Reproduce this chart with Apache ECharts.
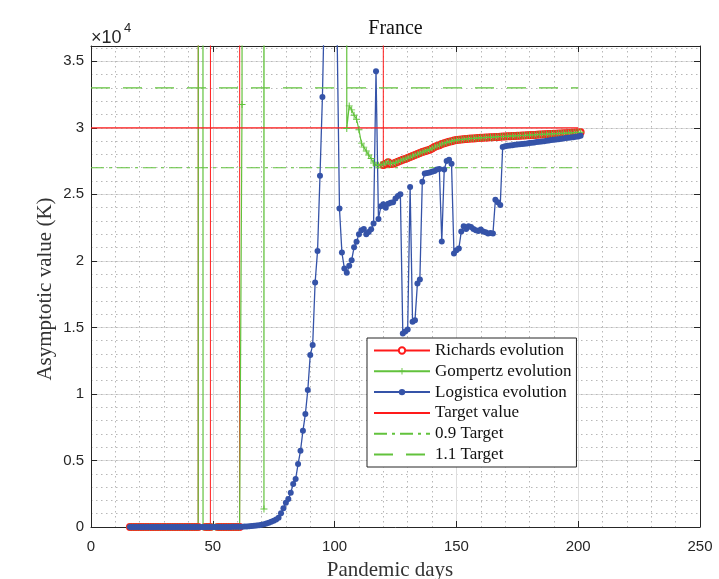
<!DOCTYPE html>
<html>
<head>
<meta charset="utf-8">
<script src="https://cdn.jsdelivr.net/npm/echarts@6/dist/echarts.min.js"></script>
<style>
html,body{margin:0;padding:0;background:#fff;}
#chart{width:719px;height:579px;}
</style>
</head>
<body>
<div id="chart"></div>
<script>
// fitted asymptote K per pandemic day, France.
// OFF = fit blew up (far above the plot), null = no fit that day
var OFF = 1000000;
var firstDay = 16;

var richards = [
    0,0,0,0,0,0,0,0,0,0,
    0,0,0,0,0,0,0,0,0,0,
    0,0,0,0,0,0,0,0,0,OFF,
    null,0,0,0,OFF,null,0,0,0,0,
    0,0,0,0,0,0,OFF,OFF,OFF,OFF,
    OFF,OFF,OFF,OFF,OFF,OFF,OFF,OFF,OFF,OFF,
    OFF,OFF,OFF,OFF,OFF,OFF,OFF,OFF,OFF,OFF,
    OFF,OFF,OFF,OFF,OFF,OFF,OFF,OFF,OFF,OFF,
    OFF,OFF,OFF,OFF,OFF,OFF,OFF,OFF,OFF,OFF,
    OFF,OFF,OFF,OFF,OFF,OFF,OFF,OFF,OFF,OFF,
    OFF,OFF,OFF,OFF,27200,27300,27420,27280,27300,27380,
    27450,27520,27600,27660,27740,27800,27880,27950,28030,28100,
    28180,28240,28300,28360,28450,28550,28640,28700,28790,28850,
    28900,28950,29000,29050,29090,29110,29130,29150,29160,29180,
    29190,29200,29220,29230,29250,29260,29270,29280,29290,29300,
    29310,29320,29330,29340,29350,29360,29370,29380,29390,29400,
    29410,29420,29430,29440,29450,29460,29470,29480,29490,29500,
    29510,29520,29530,29540,29550,29560,29570,29580,29590,29600,
    29610,29620,29630,29640,29650,29660
];

var gompertz = [
    0,0,0,0,0,0,0,0,0,0,
    0,0,0,0,0,0,0,0,0,0,
    0,0,0,0,0,0,0,0,0,OFF,
    0,0,0,0,0,0,0,0,0,0,
    0,0,0,0,0,0,31750,OFF,OFF,OFF,
    OFF,OFF,OFF,OFF,OFF,1350,OFF,OFF,OFF,OFF,
    OFF,OFF,OFF,OFF,OFF,OFF,OFF,OFF,OFF,OFF,
    OFF,OFF,OFF,OFF,OFF,OFF,OFF,OFF,OFF,OFF,
    OFF,OFF,OFF,OFF,OFF,OFF,OFF,OFF,OFF,29950,
    31650,31350,30950,30650,29850,28850,28550,28250,27950,27700,
    27350,27200,27180,27230,27260,27350,27450,27300,27320,27400,
    27460,27530,27600,27670,27740,27810,27880,27950,28020,28100,
    28170,28240,28300,28370,28460,28550,28630,28700,28780,28850,
    28900,28960,29000,29050,29080,29110,29130,29150,29170,29180,
    29190,29210,29220,29240,29250,29260,29270,29290,29300,29300,
    29310,29330,29340,29350,29350,29360,29380,29390,29390,29400,
    29420,29430,29430,29440,29460,29470,29470,29480,29500,29510,
    29510,29520,29540,29550,29550,29560,29580,29590,29590,29600,
    29620,29630,29630,29640,29660,29670
];

var logistica = [
    0,0,0,0,0,0,0,0,0,0,
    0,0,0,0,0,0,0,0,0,0,
    0,0,0,0,0,0,0,0,0,0,
    0,0,0,0,0,0,0,0,0,0,
    5,8,10,12,15,20,25,30,40,55,
    70,90,110,140,170,210,260,320,390,470,
    560,700,1030,1400,1830,2100,2580,3230,3600,4730,
    5730,7230,8490,10290,12920,13670,18380,20750,26390,32320,
    41000,60000,75000,70000,55000,37500,23940,20630,19430,19100,
    19630,20050,21030,21430,22010,22310,22400,22010,22180,22380,
    22810,34250,23150,24100,24250,24000,24300,24360,24400,24680,
    24880,25010,14540,14700,14850,25560,15420,15545,18300,18600,
    25940,26560,26610,26640,26690,26760,26860,26900,21450,26860,
    27510,27600,27300,20550,20800,20930,22200,22600,22400,22600,
    22550,22400,22300,22250,22350,22200,22150,22050,22100,22050,
    24600,24400,24200,28560,28620,28650,28680,28700,28720,28740,
    28760,28790,28810,28830,28860,28880,28900,28930,28950,28980,
    29000,29030,29050,29080,29100,29130,29150,29180,29200,29230,
    29250,29280,29300,29330,29350,29400
];

var targetDays = [0, 200];
var targetValue = 30000;
var lowTarget = 27000;   // 0.9 target
var highTarget = 33000;  // 1.1 target

var red = '#ff1a1a';
var green = '#62c23c';
var blue = '#3553a8';
var axisCol = '#262626';
var serif = '"Liberation Serif", "DejaVu Serif", serif';
var sans = '"Liberation Sans", Arial, sans-serif';

function toPoints(vals) {
    return vals.map(function (v, i) { return [firstDay + i, v]; });
}
function flat(v) {
    return targetDays.map(function (d) { return [d, v]; });
}

var chart = echarts.init(document.getElementById('chart'));

var noMark = { opacity: 0 };

var option = {
    animation: false,
    backgroundColor: '#fff',
    grid: { left: 91, right: 19, top: 46, bottom: 52, containLabel: false },
    legend: {
        left: 367, top: 338,
        orient: 'vertical',
        padding: [4, 5, 4, 6],
        itemWidth: 56, itemHeight: 8, itemGap: 3.8,
        backgroundColor: '#fff',
        borderColor: axisCol, borderWidth: 1, borderRadius: 0,
        textStyle: { fontFamily: serif, fontSize: 17, color: '#111' },
        data: [
            { name: 'Richards evolution' },
            { name: 'Gompertz evolution' },
            { name: 'Logistica evolution' },
            { name: 'Target value', itemStyle: noMark },
            { name: '0.9 Target', itemStyle: noMark },
            { name: '1.1 Target', itemStyle: noMark }
        ]
    },
    xAxis: [{
        type: 'value', min: 0, max: 250, interval: 50,
        axisLine: { lineStyle: { color: axisCol } },
        axisTick: { inside: true, length: 6, lineStyle: { color: axisCol } },
        axisLabel: { color: axisCol, fontFamily: sans, fontSize: 15, margin: 12 },
        splitLine: { show: true, lineStyle: { color: '#dedede', width: 1 } },
        minorTick: { show: false, splitNumber: 5 },
        minorSplitLine: { show: true, lineStyle: { color: '#b8b8b8', width: 1, type: [1.5, 3.5] } }
    }, {
        type: 'value', min: 0, max: 250, interval: 50, position: 'top',
        axisLine: { show: true, onZero: false, lineStyle: { color: axisCol } },
        axisTick: { inside: true, length: 6, lineStyle: { color: axisCol } },
        axisLabel: { show: false },
        splitLine: { show: false }
    }],
    yAxis: [{
        type: 'value', min: 0, max: 36150, interval: 5000,
        axisLine: { show: true, lineStyle: { color: axisCol } },
        axisTick: { show: true, inside: true, length: 6, lineStyle: { color: axisCol } },
        axisLabel: {
            color: axisCol, fontFamily: sans, fontSize: 15, margin: 7, showMaxLabel: false,
            formatter: function (v) { return v > 36000 ? '' : String(v / 10000); }
        },
        splitLine: { show: true, lineStyle: { color: '#dedede', width: 1 } }
    }, {
        type: 'value', min: 0, max: 36150, interval: 5000, position: 'right',
        axisLine: { show: true, onZero: false, lineStyle: { color: axisCol } },
        axisTick: { show: true, inside: true, length: 6, lineStyle: { color: axisCol } },
        axisLabel: { show: false },
        splitLine: { show: false }
    }, {
        // minor dotted grid, every 1000
        type: 'value', min: 0, max: 36150, interval: 1000, position: 'left',
        axisLine: { show: false }, axisTick: { show: false }, axisLabel: { show: false },
        splitLine: { show: true, lineStyle: { color: '#b8b8b8', width: 1, type: [1.5, 3.5] } }
    }],
    series: [{
        name: 'Richards evolution',
        type: 'line',
        data: toPoints(richards),
        symbol: 'emptyCircle', symbolSize: 6, showAllSymbol: true,
        lineStyle: { color: red, width: 1 },
        itemStyle: { color: red, borderColor: red, borderWidth: 1 },
        emphasis: { disabled: true }
    }, {
        name: 'Gompertz evolution',
        type: 'line',
        data: toPoints(gompertz),
        symbol: 'path://M4.3,0H5.7V10H4.3Z M0,4.3H10V5.7H0Z', symbolSize: 7, showAllSymbol: true,
        lineStyle: { color: green, width: 1.2 },
        itemStyle: { color: green },
        emphasis: { disabled: true }
    }, {
        name: 'Logistica evolution',
        type: 'line',
        data: toPoints(logistica),
        symbol: 'circle', symbolSize: 6, showAllSymbol: true,
        lineStyle: { color: blue, width: 1.3 },
        itemStyle: { color: blue },
        emphasis: { disabled: true }
    }, {
        name: 'Target value',
        type: 'line',
        data: flat(targetValue),
        symbol: 'none',
        lineStyle: { color: red, width: 1.2 },
        itemStyle: { color: red },
        emphasis: { disabled: true }
    }, {
        name: '0.9 Target',
        type: 'line',
        data: flat(lowTarget),
        symbol: 'none',
        lineStyle: { color: green, width: 1.2, type: [13, 5, 3, 5] },
        itemStyle: { color: green },
        emphasis: { disabled: true }
    }, {
        name: '1.1 Target',
        type: 'line',
        data: flat(highTarget),
        symbol: 'none',
        lineStyle: { color: green, width: 1.2, type: [19, 13] },
        itemStyle: { color: green },
        emphasis: { disabled: true }
    }],
    graphic: [{
        type: 'text', x: 395.5, y: 29,
        style: { text: 'France', font: '20px ' + serif, fill: '#111',
                 textAlign: 'center', textVerticalAlign: 'middle', align: 'center', verticalAlign: 'middle' }
    }, {
        type: 'text', x: 390, y: 570,
        style: { text: 'Pandemic days', font: '21px ' + serif, fill: '#333',
                 textAlign: 'center', textVerticalAlign: 'middle', align: 'center', verticalAlign: 'middle' }
    }, {
        type: 'text', x: 45, y: 289, rotation: Math.PI / 2,
        style: { text: 'Asymptotic value (K)', font: '21px ' + serif, fill: '#333',
                 textAlign: 'center', textVerticalAlign: 'middle', align: 'center', verticalAlign: 'middle' }
    }, {
        type: 'text', x: 91, y: 38,
        style: { text: '×10', font: '18px ' + sans, fill: axisCol,
                 textAlign: 'left', textVerticalAlign: 'middle', align: 'left', verticalAlign: 'middle' }
    }, {
        type: 'text', x: 124, y: 28,
        style: { text: '4', font: '13px ' + sans, fill: axisCol,
                 textAlign: 'left', textVerticalAlign: 'middle', align: 'left', verticalAlign: 'middle' }
    }]
};

chart.setOption(option);
</script>
</body>
</html>
